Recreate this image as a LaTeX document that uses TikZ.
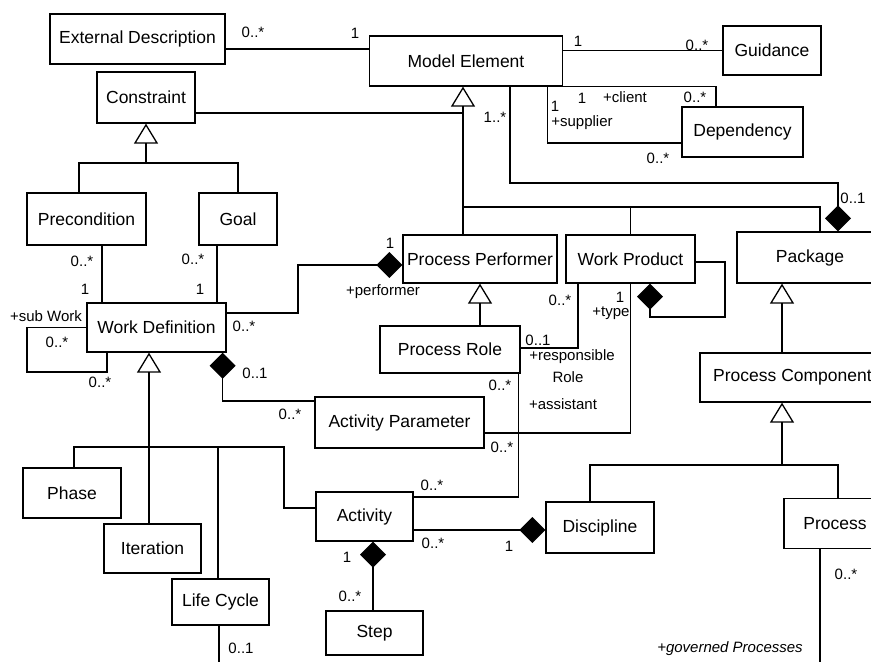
\documentclass[tikz,border=0pt]{standalone}
\usepackage{fontspec}
\setmainfont{Liberation Sans}
\usetikzlibrary{arrows.meta}
\newcommand{\umlfont}{\fontsize{17.5}{20}\selectfont}
\newcommand{\multfont}{\fontsize{15}{17}\selectfont}
\begin{document}
\begin{tikzpicture}[x=1pt, y=-1pt, line width=1.3pt,
    box/.style={draw, font=\umlfont, inner sep=0pt},
    lbl/.style={font=\multfont, inner sep=0pt},
    gen/.style={-{Triangle[open, length=20pt, width=24pt, line width=1.3pt]}},
    comp/.style={{Diamond[length=26pt, width=26pt]}-}]
  \useasboundingbox (0,0) rectangle (871,662);
  \clip (0,0) rectangle (871,662);
  % classes
  \foreach \nm/\cx/\cy/\w/\h/\txt in {
      extdesc/137.5/39/175/50/External Description,
      modelel/466/61/193/50/Model Element,
      guidance/772/50.5/98/49/Guidance,
      constraint/146/97.5/98/51/Constraint,
      dependency/742.5/132/121/50/Dependency,
      precond/86.5/219/119/52/Precondition,
      goal/238/219/78/52/Goal,
      perf/480/259/154/48/Process Performer,
      workprod/630.5/259/129/48/Work Product,
      package/810/257.5/146/51/Package,
      workdef/156.5/327.5/139/49/Work Definition,
      procrole/450/349.5/140/47/Process Role,
      proccomp/792.5/377.5/185/49/Process Component,
      actparam/399.5/422.5/169/51/Activity Parameter,
      phase/72/493/98/50/Phase,
      activity/364.5/516.5/97/49/Activity,
      discipline/600/527.5/108/51/Discipline,
      process/835/523.5/102/50/Process,
      iteration/152.5/548.5/97/49/Iteration,
      lifecycle/220.5/602/97/46/Life Cycle,
      step/374.5/633/97/44/Step}{
    \node[box, minimum width=\w pt, minimum height=\h pt] (\nm) at (\cx,\cy) {\txt};
  }
  \coordinate (bottom) at (0,662);
  \coordinate (mejoin) at (463,207);
  \coordinate (mebend) at (510,183);
  \coordinate (cjoin) at (146,163);
  \coordinate (pcjoin) at (782,465);
  \coordinate (wdjoin) at (149,447);
  \coordinate (actbend) at (284,447);

  % generalizations
  \draw[gen] (perf.north -| mejoin) -- (mejoin) -- (modelel.south -| mejoin);
  \draw (mejoin) -| (workprod.north);
  \draw (workprod.north |- mejoin) -| ([xshift=10pt]package.north);
  \draw ([yshift=-15.5pt]constraint.east) coordinate (c1) -- (c1 -| mejoin);
  \draw[gen] (cjoin) -- (constraint.south);
  \draw ([xshift=-7.5pt]precond.north) |- (cjoin) -| (goal.north);
  \draw[gen] (perf.south |- procrole.north) -- (perf.south);
  \draw[gen] ([xshift=-10.5pt]proccomp.north) coordinate (pc) -- (pc |- package.south);
  \draw[gen] (pcjoin) -- (pcjoin |- proccomp.south);
  \draw ([xshift=-10pt]discipline.north) |- (pcjoin) -| ([xshift=3pt]process.north);
  \draw[gen] (iteration.north -| wdjoin) -- (wdjoin |- workdef.south);
  \draw ([xshift=2pt]phase.north) |- (wdjoin) -- (actbend) |- ([yshift=8.5pt]activity.west);
  \draw ([xshift=-2.5pt]lifecycle.north) coordinate (lc) -- (lc |- wdjoin);

  % associations
  \draw ([yshift=-10pt]extdesc.east) coordinate (e1) -- (e1 -| modelel.west);
  \draw (modelel.east |- guidance.west) -- (guidance.west);
  \draw (modelel.south east) -| ([xshift=-26.5pt]dependency.north);
  \draw ([xshift=-16pt]modelel.south east) |- ([yshift=-11pt]dependency.west);
  \draw[comp] ([xshift=28pt]package.north) |- (mebend) -- (mebend |- modelel.south);
  \draw ([xshift=15.5pt]precond.south) coordinate (p1) -- (p1 |- workdef.north);
  \draw ([xshift=-21pt]goal.south) coordinate (g1) -- (g1 |- workdef.north);
  \draw (workdef.west) -| (27,372) -| ([xshift=-49.5pt]workdef.south);
  \draw[comp] ([yshift=-6pt]perf.west) -| (298,313) -- ([yshift=14.5pt]workdef.east);
  \draw[comp] ([xshift=-4pt]workdef.south east) |- ([yshift=21.5pt]actparam.west);
  \draw[comp] ([xshift=19.5pt]workprod.south) |- (725,317) |- ([yshift=-3pt]workprod.east);
  \draw ([yshift=1.5pt]procrole.east) -| ([xshift=-52.5pt]workprod.south);
  \draw ([yshift=-10.5pt]actparam.east) -| (workprod.south);
  \draw ([xshift=-2pt]procrole.south east) |- ([yshift=19.5pt]activity.east);
  \draw[comp] ([yshift=-2.5pt]discipline.west) -- ([yshift=-13.5pt]activity.east);
  \draw[comp] ([xshift=8.5pt]activity.south) -- ([xshift=-1.5pt]step.north);
  \draw ([xshift=-1.5pt]lifecycle.south) coordinate (l1) -- (l1 |- bottom);
  \draw ([xshift=-15pt]process.south) coordinate (r1) -- (r1 |- bottom);

  % multiplicities and roles
  \foreach \x/\y/\t [count=\i] in {
      253/32/0..*, 355/33/1, 578/41/1, 697/45/0..*,
      582/98/1, 625/97/+client, 695/97/0..*, 555/106/1,
      582/123/+supplier, 658/158/0..*, 495/117/1..*, 853/198/0..1,
      82/261/0..*, 85/289/1, 193/259/0..*, 200/289/1,
      46/316/+sub Work, 57/342/0..*, 100/382/0..*, 244/326/0..*,
      390/243/1, 383/292/+performer, 255/373/0..1, 290/414/0..*,
      560/300/0..*, 620/297/1, 611/313/+type, 538/340/0..1,
      572/357/+responsible, 568/377/Role, 500/385/0..*, 563/404/+assistant,
      502/447/0..*, 432/485/0..*, 433/543/0..*, 509/546/1,
      347/557/1, 350/596/0..*, 241/648/0..1, 846/574/0..*}{
    \node[lbl] (m\i) at (\x,\y) {\t};
  }
  \node[lbl, font=\multfont\itshape] (govproc) at (730,649) {+governed Processes};
\end{tikzpicture}
\end{document}
